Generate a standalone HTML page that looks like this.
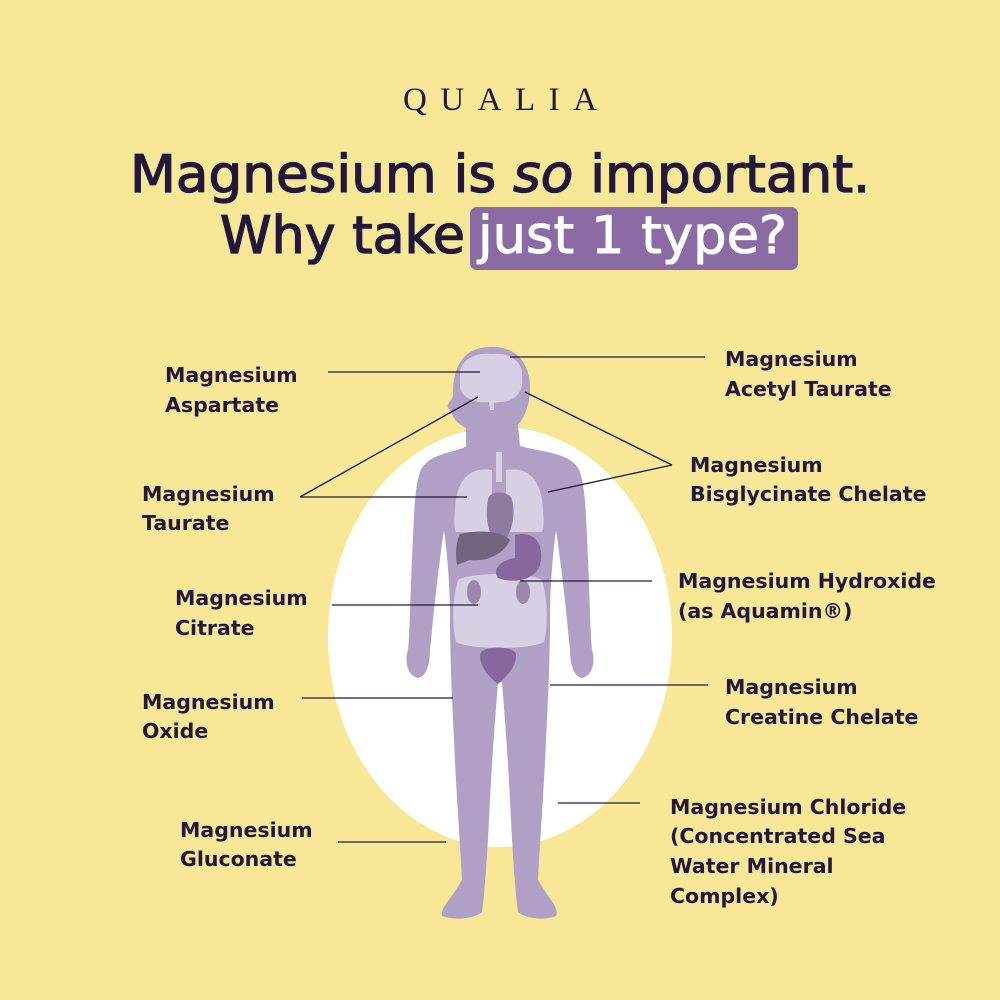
<!DOCTYPE html>
<html><head><meta charset="utf-8"><style>html,body{margin:0;padding:0;background:#f8e796}svg{display:block}</style></head>
<body>
<svg width="1000" height="1000" viewBox="0 0 1000 1000" xmlns="http://www.w3.org/2000/svg">
<rect width="1000" height="1000" fill="#f8e796"/>
<text x="403" y="110" font-family="Liberation Serif, serif" font-size="33" fill="#22183d" textLength="194" lengthAdjust="spacing">QUALIA</text>
<g font-family="DejaVu Sans, sans-serif" fill="#22183d" stroke="#22183d" stroke-width="1.3">
<text x="130" y="192" font-size="52" textLength="740" lengthAdjust="spacingAndGlyphs">Magnesium is <tspan font-style="italic">so</tspan> important.</text>
<text x="220" y="253" font-size="52" textLength="245" lengthAdjust="spacingAndGlyphs">Why take</text>
</g>
<rect x="470" y="207" width="328" height="63" rx="7" fill="#8b6ba3"/>
<text x="478" y="253" font-family="DejaVu Sans, sans-serif" font-size="52" fill="#fff" stroke="#fff" stroke-width="1" textLength="309" lengthAdjust="spacingAndGlyphs">just 1 type?</text>

<ellipse cx="500" cy="637" rx="172" ry="210" fill="#fff"/>

<g fill="#b1a0c6">
<path d="M488 347 C515 345 530 362 530 388 C530 405 524 418 518 425 L520 446 C540 452 568 452 578 468 C586 482 586 520 588 560 C590 600 590 630 592 650 C596 662 592 676 582 678 C572 676 570 660 570 650 C566 610 562 570 556 530 C552 560 550 590 550 620 C550 660 548 700 546 740 C544 790 540 840 538 880 C548 898 560 908 556 916 C546 920 528 920 518 912 C514 880 512 840 510 800 C508 760 505 720 502 682 L498 682 C495 720 492 760 490 800 C488 840 486 880 482 912 C472 920 454 920 442 916 C440 908 452 898 462 880 C460 840 456 790 454 740 C452 700 450 660 450 620 C450 590 448 560 444 530 C438 570 434 610 430 650 C430 660 428 676 418 678 C408 676 404 662 408 650 C410 630 410 600 412 560 C414 520 414 482 422 468 C432 452 460 452 466 446 L466 428 C458 424 452 418 452 412 L448 408 C446 404 452 400 453 396 C452 370 462 348 488 347 Z"/>
</g>
<path d="M460 372 C462 358 478 352 492 354 C510 352 524 362 522 378 C524 392 514 402 500 402 L494 403 L494 410 L490 410 L489 402 C474 404 458 396 460 384 Z" fill="#d9cfe4"/>
<rect x="496" y="452" width="6" height="30" fill="#d9cfe4"/>
<path d="M492 470 C470 466 456 480 455 510 C454 520 454 528 456 532 L492 532 Z" fill="#d9cfe4"/>
<path d="M506 470 C528 466 542 480 543 510 C544 520 544 528 542 532 L506 532 Z" fill="#d9cfe4"/>
<path d="M458 580 C470 572 530 572 542 580 C548 600 548 628 544 642 C530 650 470 650 456 642 C452 625 452 600 458 580 Z" fill="#d9cfe4"/>
<path d="M488 500 C488 490 510 490 512 500 C516 515 512 535 500 546 C490 540 484 520 488 500 Z" fill="#8f7aa0"/>
<path d="M460 534 C478 530 500 530 510 540 C505 552 490 562 470 560 L457 565 C455 555 456 542 460 534 Z" fill="#72657f"/>
<path d="M515 535 C535 530 545 545 540 565 C535 580 515 584 498 578 C492 570 500 560 515 558 Z" fill="#87689c"/>
<ellipse cx="474" cy="592" rx="7" ry="12" fill="#9a88ad"/>
<ellipse cx="523" cy="592" rx="7" ry="12" fill="#9a88ad"/>
<path d="M480 655 C480 645 516 645 516 655 C516 668 505 678 498 684 C490 678 480 668 480 655 Z" fill="#86689c"/>

<g stroke="#22183d" stroke-width="1.3" fill="none">
<line x1="328" y1="372" x2="480" y2="372"/>
<line x1="300" y1="497" x2="467" y2="497"/>
<line x1="300" y1="497" x2="478" y2="397"/>
<line x1="332" y1="605" x2="478" y2="605"/>
<line x1="302" y1="698" x2="453" y2="698"/>
<line x1="338" y1="842" x2="446" y2="842"/>
<line x1="510" y1="357" x2="705" y2="357"/>
<line x1="672" y1="465" x2="525" y2="392"/>
<line x1="672" y1="465" x2="548" y2="492"/>
<line x1="520" y1="581" x2="652" y2="581"/>
<line x1="550" y1="685" x2="708" y2="685"/>
<line x1="558" y1="803" x2="640" y2="803"/>
</g>

<g font-family="DejaVu Sans, sans-serif" font-weight="bold" font-size="20.5" fill="#22183d">
<text x="165" y="382">Magnesium</text><text x="165" y="412">Aspartate</text>
<text x="142" y="501">Magnesium</text><text x="142" y="530">Taurate</text>
<text x="175" y="605">Magnesium</text><text x="175" y="635">Citrate</text>
<text x="142" y="709">Magnesium</text><text x="142" y="738">Oxide</text>
<text x="180" y="837">Magnesium</text><text x="180" y="866">Gluconate</text>
<text x="725" y="366">Magnesium</text><text x="725" y="396">Acetyl Taurate</text>
<text x="690" y="472">Magnesium</text><text x="690" y="501">Bisglycinate Chelate</text>
<text x="678" y="588">Magnesium Hydroxide</text><text x="678" y="618">(as Aquamin®)</text>
<text x="725" y="694">Magnesium</text><text x="725" y="724">Creatine Chelate</text>
<text x="670" y="814">Magnesium Chloride</text><text x="670" y="843">(Concentrated Sea</text>
<text x="670" y="873">Water Mineral</text><text x="670" y="903">Complex)</text>
</g>
</svg>
</body></html>
